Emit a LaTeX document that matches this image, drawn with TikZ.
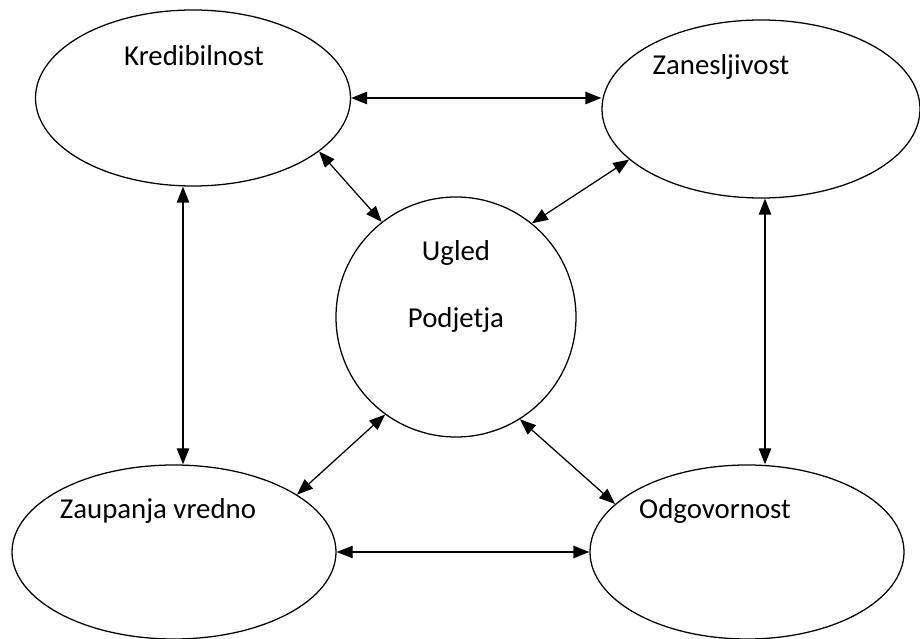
\documentclass[tikz,border=0pt]{standalone}
\usepackage{fontspec}
\setmainfont{Carlito}
\usetikzlibrary{arrows.meta,shapes.geometric}

\begin{document}
\begin{tikzpicture}[
    bubble/.style={draw,ellipse,line width=0.9pt,inner sep=0pt},
    link/.style={{Triangle[length=0.4cm,width=0.31cm]}-{Triangle[length=0.4cm,width=0.31cm]},line width=0.9pt},
    lbl/.style={font=\fontsize{20.5}{24}\selectfont}
  ]
    \useasboundingbox (0,0) rectangle (23,-15.975);
    % the five ellipses
    \node[bubble,minimum width=7.875cm,minimum height=4.4cm] (kred) at (4.825,-2.45) {};
    \node[bubble,minimum width=7.95cm,minimum height=4.45cm] (zan) at (19.025,-2.725) {};
    \node[bubble,circle,minimum size=6cm] (ugled) at (11.4,-7.925) {};
    \node[bubble,minimum width=8.1cm,minimum height=4.35cm] (zaup) at (4.35,-13.8) {};
    \node[bubble,minimum width=7.85cm,minimum height=4.35cm] (odg) at (18.675,-13.8) {};
    % texts
    \node[lbl] (tkred) at (4.85,-1.4) {Kredibilnost};
    \node[lbl] (tzan) at (18.025,-1.675) {Zanesljivost};
    \node[lbl] (tugled) at (11.4,-6.325) {Ugled};
    \node[lbl] (tpodj) at (11.4,-8.0) {Podjetja};
    \node[lbl] (tzaup) at (3.95,-12.775) {Zaupanja vredno};
    \node[lbl] (todg) at (17.875,-12.775) {Odgovornost};
    % connectors
    \draw[link] (kred.east) -- (kred.east -| zan.west);
    \draw[link] (zaup.east) -- (zaup.east -| odg.west);
    \draw[link] ([xshift=-0.25cm]kred.south) -- ([xshift=-0.25cm]kred.south |- zaup.north);
    \draw[link] ([xshift=0.1cm]zan.south) -- ([xshift=0.1cm]zan.south |- odg.north);
    \draw[link] (kred.-23) -- (ugled.128);
    \draw[link] (zan.201) -- (ugled.51);
    \draw[link] (zaup.25) -- (ugled.234);
    \draw[link] (odg.160) -- (ugled.-58);
  \end{tikzpicture}
\end{document}
